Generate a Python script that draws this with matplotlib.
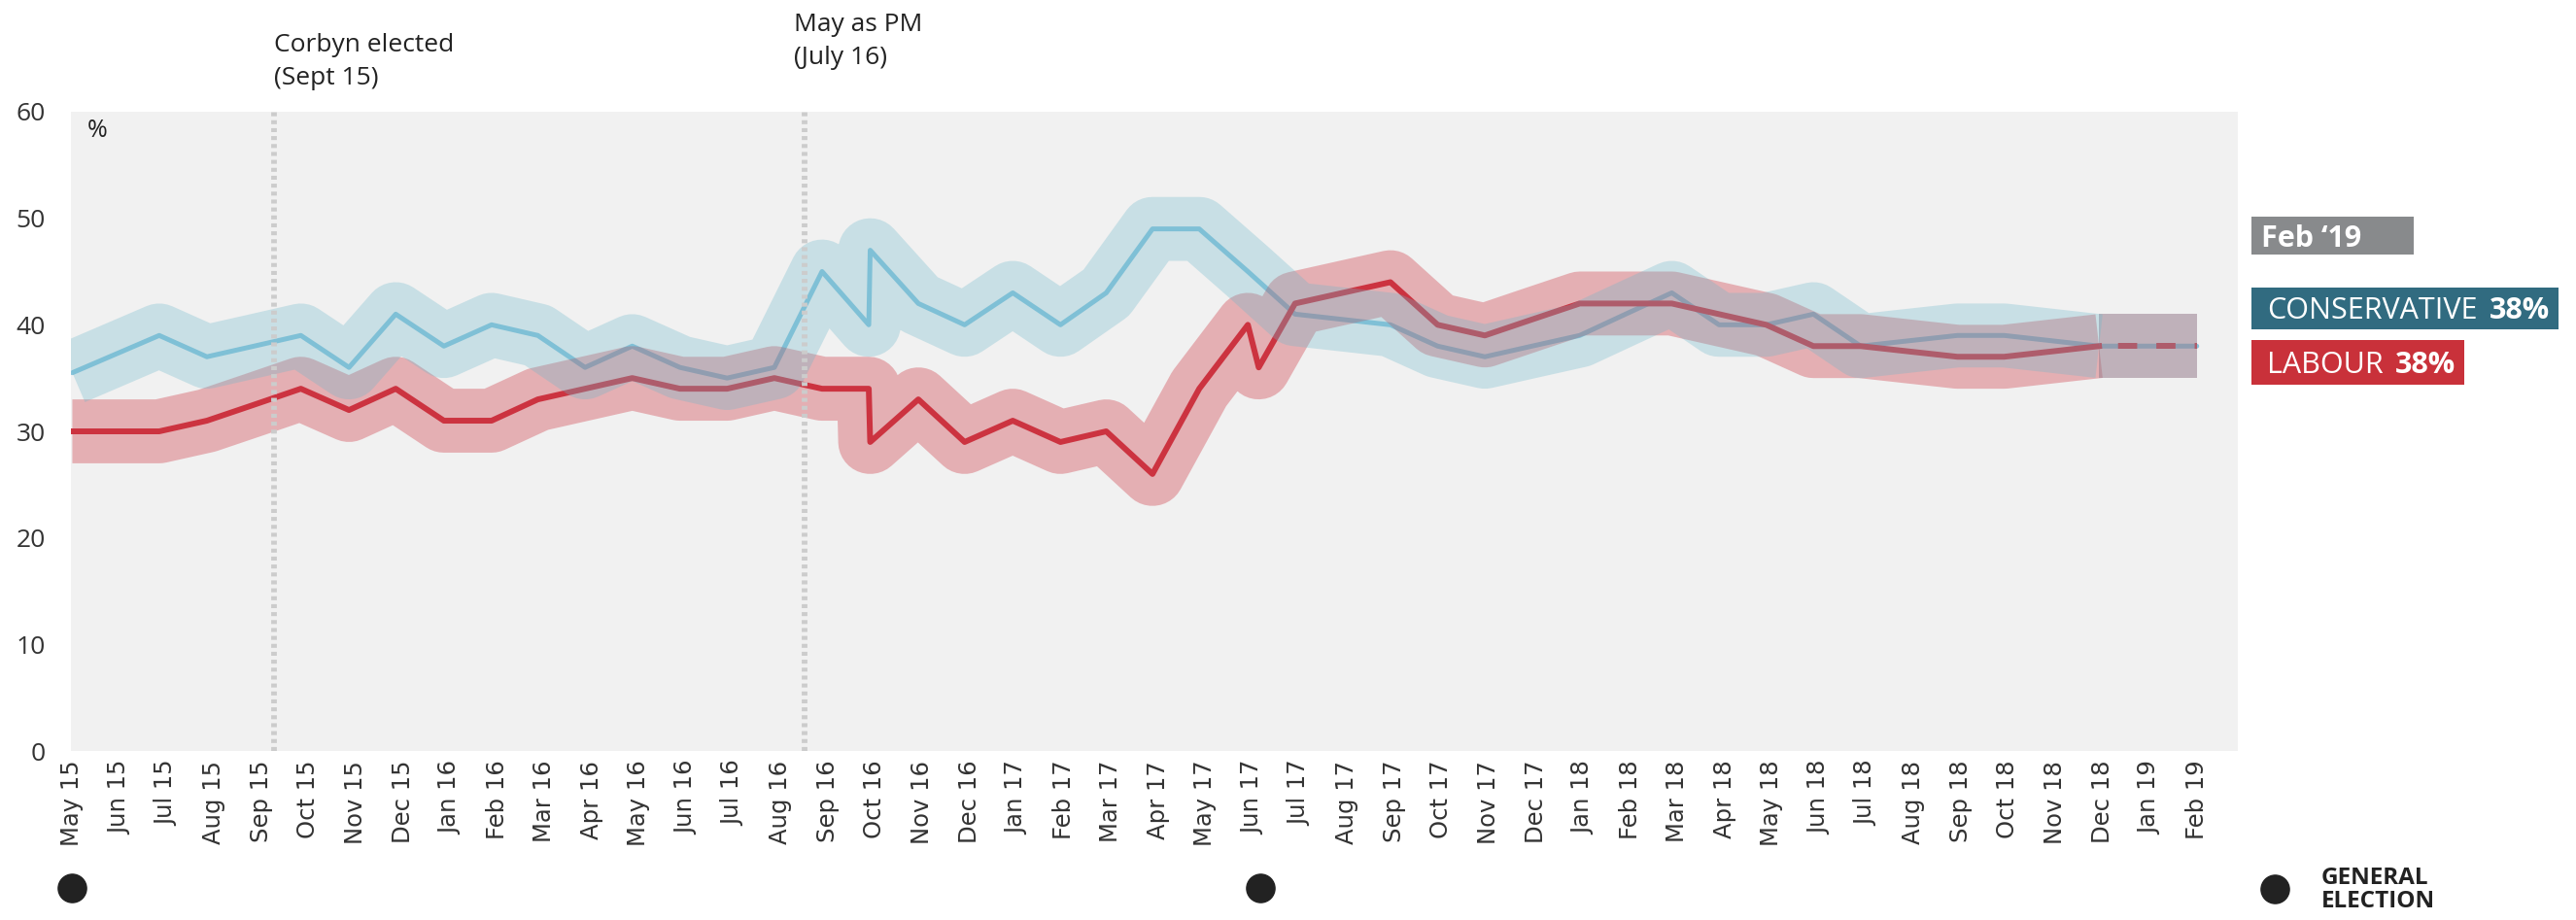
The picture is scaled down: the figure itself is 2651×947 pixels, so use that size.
import matplotlib
matplotlib.use("Agg")
import matplotlib.pyplot as plt
from matplotlib.patches import Rectangle
from matplotlib import transforms
import numpy as np

# month axis (index 0 = May 15)
months = ["May 15", "Jun 15", "Jul 15", "Aug 15", "Sep 15", "Oct 15", "Nov 15", "Dec 15",
          "Jan 16", "Feb 16", "Mar 16", "Apr 16", "May 16", "Jun 16", "Jul 16", "Aug 16",
          "Sep 16", "Oct 16", "Nov 16", "Dec 16", "Jan 17", "Feb 17", "Mar 17", "Apr 17",
          "May 17", "Jun 17", "Jul 17", "Aug 17", "Sep 17", "Oct 17", "Nov 17", "Dec 17",
          "Jan 18", "Feb 18", "Mar 18", "Apr 18", "May 18", "Jun 18", "Jul 18", "Aug 18",
          "Sep 18", "Oct 18", "Nov 18", "Dec 18", "Jan 19", "Feb 19"]
y_ticks = [0, 10, 20, 30, 40, 50, 60]

con_x = [0, 1.84, 2.85, 3.85, 4.84, 5.86, 6.85, 7.87, 8.88, 9.86, 10.86, 11.86, 12.87,
         13.87, 14.87, 15.88, 16.87, 16.9, 17.92, 18.9, 19.92, 20.93, 21.9, 22.88, 23.87,
         24.9, 25.9, 26.91, 27.92, 28.92, 29.92, 30.92, 31.93, 32.9, 33.88, 34.88, 35.88,
         36.88, 37.88, 38.9, 39.93, 40.92, 41.93, 42.93]
con_y = [35.5, 39, 37, 38, 39, 36, 41, 38, 40, 39, 36, 38, 36,
         35, 36, 45, 40, 47, 42, 40, 43, 40, 43, 49, 49,
         45, 41, 40.5, 40, 38, 37, 38, 39, 41, 43, 40, 40,
         41, 38, 38.5, 39, 39, 38.5, 38]

lab_x = [0, 1.84, 2.85, 3.85, 4.84, 5.86, 6.85, 7.87, 8.88, 9.86, 10.86, 11.86, 12.87,
         13.87, 14.87, 15.88, 16.87, 16.9, 17.92, 18.9, 19.92, 20.93, 21.9, 22.88, 23.87,
         24.9, 25.13, 25.9, 26.91, 27.92, 28.92, 29.92, 30.92, 31.93, 32.9, 33.88, 34.88,
         35.88, 36.88, 37.88, 38.9, 39.93, 40.92, 41.93, 42.93]
lab_y = [30, 30, 31, 32.5, 34, 32, 34, 31, 31, 33, 34, 35, 34,
         34, 35, 34, 34, 29, 33, 29, 31, 29, 30, 26, 34,
         40, 36, 42, 43, 44, 40, 39, 40.5, 42, 42, 42, 41,
         40, 38, 38, 37.5, 37, 37, 37.5, 38]

# latest reading, carried to Feb 19
latest_x = [42.93, 45]
latest_con = [38, 38]
latest_lab = [38, 38]
margin = 3

events_x = [4.28, 15.52]
events_text = ["Corbyn elected\n(Sept 15)", "May as PM\n(July 16)"]
events_text_x = [4.28, 15.28]
events_text_y = [1.033, 1.065]

elections_x = [0, 25.17]

W, H = 2651, 947
fig = plt.figure(figsize=(W / 100, H / 100), dpi=100)
ax = fig.add_axes([73 / W, 1 - 773 / H, (2303 - 73) / W, (773 - 115) / H])
ax.set_facecolor("#f1f1f1")
ax.set_xlim(-0.03, 45.87)
ax.set_ylim(0, 60)
for s in ax.spines.values():
    s.set_visible(False)

# band width: 2*margin in data units -> points
band_pt = ax.get_position().height * H / 60 * (2 * margin) * 72 / fig.dpi

blue_line = "#88c4db"
blue_band = "#6eb8cb"
red_line = "#cc3340"
red_band = "#cd3541"

ax.plot(con_x + latest_x[1:], con_y + latest_con[1:], color=blue_line, lw=3.6,
        solid_capstyle="round", zorder=1)

ax.plot(lab_x, lab_y, color=red_band, alpha=0.35, lw=band_pt,
        solid_joinstyle="round", solid_capstyle="butt", zorder=2)
ax.fill_between(latest_x, np.array(latest_lab) - margin, np.array(latest_lab) + margin,
                color=red_band, alpha=0.35, lw=0, zorder=2)

ax.plot(lab_x, lab_y, color=red_line, lw=4.3, zorder=3)
ax.plot(latest_x, latest_lab, color=red_line, lw=4.3, linestyle=(3.3, (3.3, 3.3)),
        dash_capstyle="butt", zorder=3)

ax.plot(con_x, con_y, color=blue_band, alpha=0.31, lw=band_pt,
        solid_joinstyle="round", solid_capstyle="butt", zorder=4)
ax.fill_between(latest_x, np.array(latest_con) - margin, np.array(latest_con) + margin,
                color=blue_band, alpha=0.31, lw=0, zorder=4)

blend = transforms.blended_transform_factory(ax.transData, ax.transAxes)
for x, txt, tx, ty in zip(events_x, events_text, events_text_x, events_text_y):
    ax.axvline(x, color="#cccccc", lw=4.2, linestyle=(0, (0.7, 0.7)), zorder=6)
    ax.text(tx, ty, txt, transform=blend, ha="left", va="bottom", fontsize=19,
            family="Open Sans", color="#222222", clip_on=False, linespacing=1.5)

ax.text(0.0076, 0.989, "%", transform=ax.transAxes, ha="left", va="top",
        fontsize=18, family="Open Sans", color="#222222")

ax.set_xticks(range(len(months)), labels=months, rotation=90, fontsize=17.5,
              family="DejaVu Sans", color="#333333")
ax.set_yticks(y_ticks, labels=[str(v) for v in y_ticks], fontsize=19,
              family="Open Sans", color="#333333")
ax.tick_params(axis="x", length=0, pad=7)
ax.tick_params(axis="y", length=0, pad=19)

# general election markers
ax.plot(elections_x, [-0.215] * len(elections_x), transform=blend, ls="none",
        marker="o", ms=21, color="#222222", clip_on=False)
ax.plot([1.017], [-0.216], transform=ax.transAxes, ls="none", marker="o", ms=21,
        color="#222222", clip_on=False)
ax.text(1.0386, -0.218, "GENERAL\nELECTION", transform=ax.transAxes, ha="left",
        va="center", fontsize=17.5, fontweight="bold", family="Open Sans",
        color="#222222", linespacing=1.0)

# right-hand labels
renderer = fig.canvas.get_renderer()


def tag(top, bottom, parts, face, text_left, right=None):
    base = (top + bottom) / 2 + 11
    x = text_left
    end = x
    for txt, weight in parts:
        t = fig.text(x / W, 1 - base / H, txt, color="white", fontsize=22,
                     fontweight=weight, family="Open Sans", va="baseline", zorder=3)
        bb = t.get_window_extent(renderer)
        end = bb.x1
        x = bb.x1 + 12
    if right is None:
        right = end + 9
    fig.add_artist(Rectangle((2317 / W, 1 - bottom / H), (right - 2317) / W,
                             (bottom - top) / H, transform=fig.transFigure,
                             facecolor=face, edgecolor="none", zorder=2))


tag(223, 262, [("Feb \u201819", "bold")], "#888a8c", 2327, right=2484)
tag(296, 339, [("CONSERVATIVE", "normal"), ("38%", "bold")], "#316b80", 2333)
tag(350, 396, [("LABOUR", "normal"), ("38%", "bold")], "#c9313a", 2333)

fig.savefig("out.png", dpi=100)
